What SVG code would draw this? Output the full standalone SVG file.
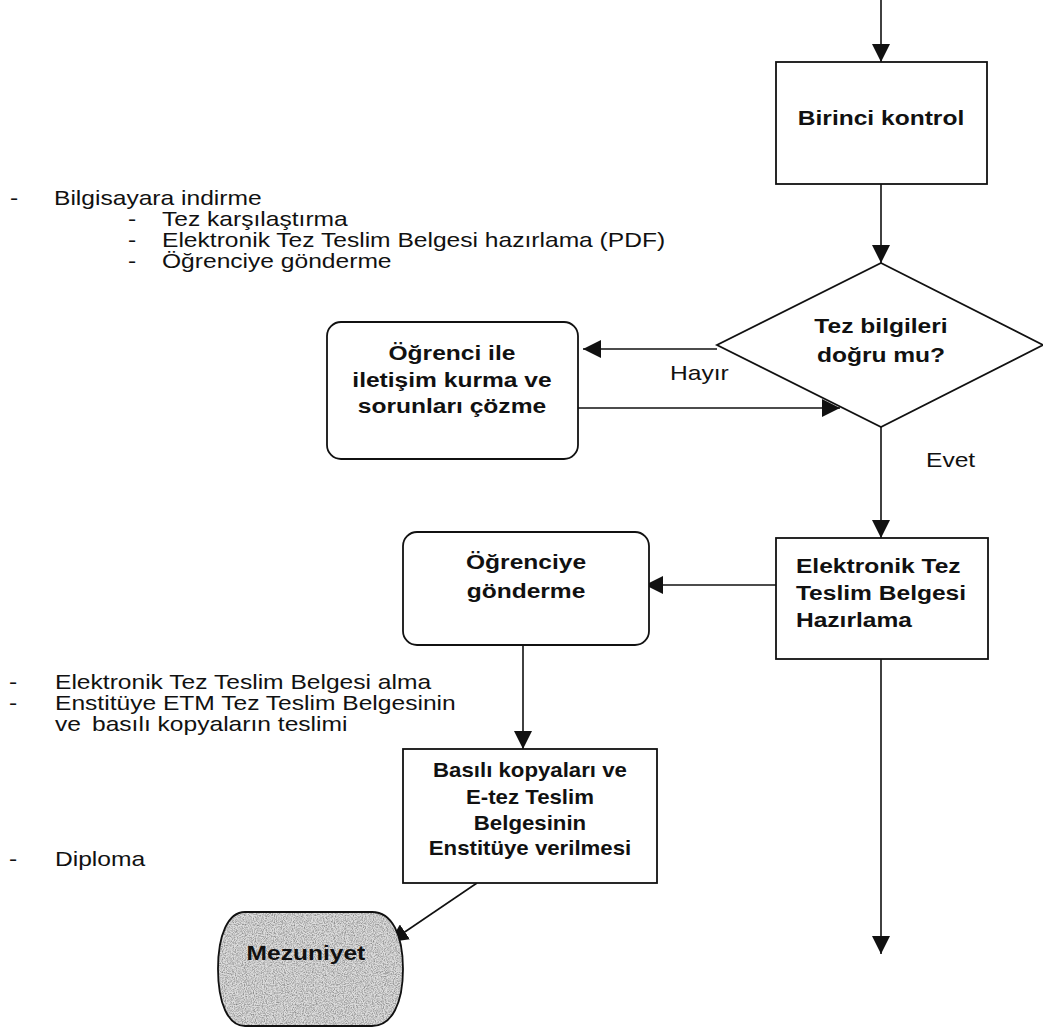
<svg xmlns="http://www.w3.org/2000/svg" width="1043" height="1036" viewBox="0 0 1043 1036">
<style>
.bg{fill:#ffffff}
.box{fill:#ffffff;stroke:#111;stroke-width:1.8}
.conn{fill:none;stroke:#111;stroke-width:1.6}
.t{font-family:"Liberation Sans",Arial,sans-serif;font-size:20.5px;fill:#111}
.b{font-family:"Liberation Sans",Arial,sans-serif;font-size:21px;font-weight:bold;fill:#111}
.bs{font-family:"Liberation Sans",Arial,sans-serif;font-size:19.5px;font-weight:bold;fill:#111}
.mid{text-anchor:middle}
</style>
<defs>
<marker id="ah" viewBox="0 0 18 18" refX="18" refY="9" markerWidth="18" markerHeight="18" markerUnits="userSpaceOnUse" orient="auto">
<path d="M0,0 L18,9 L0,18 Z" fill="#111"/>
</marker>
<filter id="grain" x="0" y="0" width="100%" height="100%">
<feTurbulence type="fractalNoise" baseFrequency="0.9" numOctaves="2" seed="4" result="n"/>
<feColorMatrix in="n" type="matrix" values="0 0 0 0 0  0 0 0 0 0  0 0 0 0 0  0.8 0 0 0 -0.3" result="m"/>
<feComposite in="m" in2="SourceGraphic" operator="in"/>
</filter>
</defs>
<rect class="bg" x="0" y="0" width="1043" height="1036"/>

<g id="connectors">
<line class="conn" x1="881" y1="0" x2="881" y2="62" marker-end="url(#ah)"/>
<line class="conn" x1="881" y1="184" x2="881" y2="263" marker-end="url(#ah)"/>
<line class="conn" x1="717" y1="349" x2="583" y2="349" marker-end="url(#ah)"/>
<line class="conn" x1="578" y1="408" x2="840" y2="408" marker-end="url(#ah)"/>
<line class="conn" x1="881" y1="427" x2="881" y2="538" marker-end="url(#ah)"/>
<line class="conn" x1="776" y1="585" x2="645" y2="585" marker-end="url(#ah)"/>
<line class="conn" x1="523" y1="645" x2="523" y2="749" marker-end="url(#ah)"/>
<line class="conn" x1="477" y1="883" x2="390" y2="942" marker-end="url(#ah)"/>
<line class="conn" x1="881" y1="659" x2="881" y2="954" marker-end="url(#ah)"/>
<text class="t" transform="scale(1.2 1)" x="558.33" y="380">Hayır</text>
<text class="t" transform="scale(1.2 1)" x="771.67" y="467">Evet</text>
</g>

<g id="notes-top">
<text class="t" transform="scale(1.2 1)"><tspan x="8.33" y="205">-</tspan><tspan x="45" y="205">Bilgisayara indirme</tspan></text>
<text class="t" transform="scale(1.2 1)"><tspan x="106.67" y="226">-</tspan><tspan x="135" y="226">Tez karşılaştırma</tspan></text>
<text class="t" transform="scale(1.2 1)"><tspan x="106.67" y="247">-</tspan><tspan x="135" y="247">Elektronik Tez Teslim Belgesi hazırlama (PDF)</tspan></text>
<text class="t" transform="scale(1.2 1)"><tspan x="106.67" y="268">-</tspan><tspan x="135" y="268">Öğrenciye gönderme</tspan></text>
</g>

<g id="notes-bottom">
<text class="t" transform="scale(1.2 1)"><tspan x="7.5" y="689">-</tspan><tspan x="45.83" y="689">Elektronik Tez Teslim Belgesi alma</tspan></text>
<text class="t" transform="scale(1.2 1)"><tspan x="7.5" y="710">-</tspan><tspan x="45.83" y="710">Enstitüye ETM Tez Teslim Belgesinin</tspan></text>
<text class="t" transform="scale(1.2 1)"><tspan x="45.83" y="731">ve</tspan><tspan x="76.67" y="731">basılı kopyaların teslimi</tspan></text>
<text class="t" transform="scale(1.2 1)"><tspan x="7.5" y="866">-</tspan><tspan x="45.83" y="866">Diploma</tspan></text>
</g>

<g id="birinci-kontrol">
<rect class="box" x="776" y="62" width="211" height="122"/>
<text class="b mid" transform="scale(1.17 1)" x="753" y="125">Birinci kontrol</text>
</g>

<g id="tez-bilgileri">
<polygon class="box" points="881,263 1043,345 881,427 717,345"/>
<text class="b mid" transform="scale(1.17 1)"><tspan x="753" y="333">Tez bilgileri</tspan><tspan x="753" y="362">doğru mu?</tspan></text>
</g>

<g id="ogrenci-iletisim">
<rect class="box" x="327" y="322" width="251" height="137" rx="14" ry="14"/>
<text class="b mid" transform="scale(1.17 1)"><tspan x="386.3" y="360">Öğrenci ile</tspan><tspan x="386.3" y="387">iletişim kurma ve</tspan><tspan x="386.3" y="413">sorunları çözme</tspan></text>
</g>

<g id="elektronik-belge">
<rect class="box" x="776" y="538" width="212" height="121"/>
<text class="b" transform="scale(1.17 1)"><tspan x="680.3" y="573">Elektronik Tez</tspan><tspan x="680.3" y="600">Teslim Belgesi</tspan><tspan x="680.3" y="627">Hazırlama</tspan></text>
</g>

<g id="ogrenciye-gonderme">
<rect class="box" x="403" y="532" width="246" height="113" rx="14" ry="14"/>
<text class="b mid" transform="scale(1.17 1)"><tspan x="449.6" y="569">Öğrenciye</tspan><tspan x="449.6" y="598">gönderme</tspan></text>
</g>

<g id="basili-kopyalar">
<rect class="box" x="403" y="749" width="254" height="134"/>
<text class="bs mid" transform="scale(1.14 1)"><tspan x="464.9" y="777">Basılı kopyaları ve</tspan><tspan x="464.9" y="804">E-tez Teslim</tspan><tspan x="464.9" y="830">Belgesinin</tspan><tspan x="464.9" y="855">Enstitüye verilmesi</tspan></text>
</g>

<g id="mezuniyet">
<path d="M245,912 L372,912 C392,912 403,935 403,969 C403,1003 392,1026 372,1026 L245,1026 C228,1026 218,1003 218,969 C218,935 228,912 245,912 Z" fill="#dcdcdc"/>
<path d="M245,912 L372,912 C392,912 403,935 403,969 C403,1003 392,1026 372,1026 L245,1026 C228,1026 218,1003 218,969 C218,935 228,912 245,912 Z" fill="#000" filter="url(#grain)"/>
<path d="M245,912 L372,912 C392,912 403,935 403,969 C403,1003 392,1026 372,1026 L245,1026 C228,1026 218,1003 218,969 C218,935 228,912 245,912 Z" fill="none" stroke="#111" stroke-width="1.8"/>
<text class="b mid" transform="scale(1.17 1)" x="261.5" y="960">Mezuniyet</text>
</g>
</svg>
